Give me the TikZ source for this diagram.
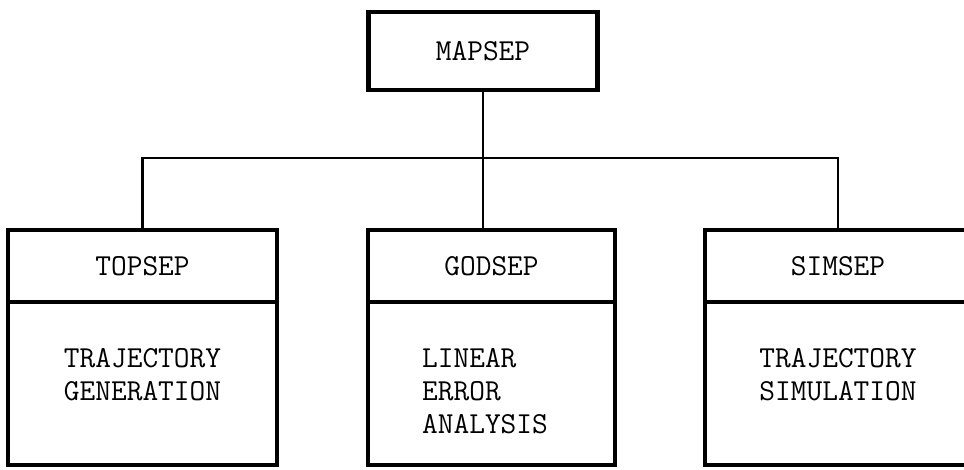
\documentclass[tikz,border=0pt]{standalone}
\usepackage{tikz}
\usetikzlibrary{positioning}

\begin{document}
\begin{tikzpicture}[
    x=1pt, y=-1pt,
    every node/.style={font=\ttfamily\fontsize{30.5}{33}\selectfont},
    box/.style={draw, line width=4.5pt, inner sep=0pt, outer sep=0pt, align=center},
    headbox/.style={box, minimum height=72pt},
    bodybox/.style={box, minimum height=163pt},
    bodytext/.style={inner sep=0pt, align=center},
    link/.style={line width=2.5pt}
]
    \useasboundingbox (0,0) rectangle (964,470);

    % top box
    \node[box, minimum width=229pt, minimum height=78pt] (mapsep) at (483,51) {MAPSEP};

    % three boxes, header with body below
    \node[headbox, minimum width=269pt] (tophead) at (142.5,266) {TOPSEP};
    \node[bodybox, minimum width=269pt, below=0pt of tophead] (topbody) {};
    \node[headbox, minimum width=247pt] (godhead) at (491.5,266) {GODSEP};
    \node[bodybox, minimum width=247pt, below=0pt of godhead] (godbody) {};
    \node[headbox, minimum width=266pt] (simhead) at (838,266) {SIMSEP};
    \node[bodybox, minimum width=266pt, below=0pt of simhead] (simbody) {};

    % body texts
    \node[bodytext, below=46pt of tophead.south] (toptext) {TRAJECTORY\\GENERATION};
    \node[bodytext, align=left, below right=46pt and 54pt of godhead.south west] (godtext) {LINEAR\\ERROR\\ANALYSIS};
    \node[bodytext, below=46pt of simhead.south] (simtext) {TRAJECTORY\\SIMULATION};

    % connectors
    \coordinate (bus) at (483,158);
    \draw[link] (mapsep.south) -- (mapsep.south |- godhead.north);
    \draw[link] (tophead.north) |- (bus) -| (simhead.north);
\end{tikzpicture}
\end{document}
